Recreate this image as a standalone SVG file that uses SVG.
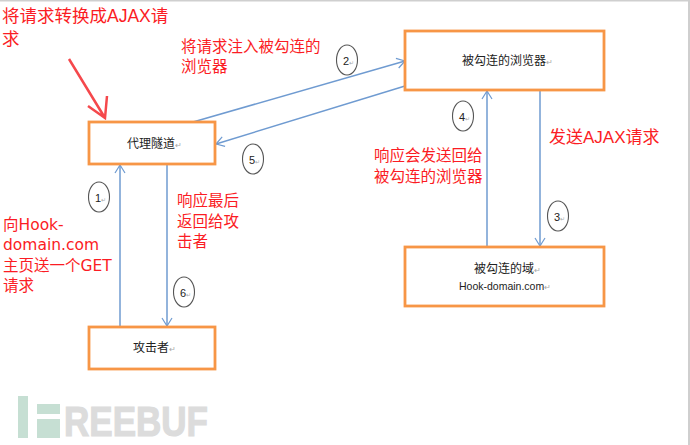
<svg xmlns="http://www.w3.org/2000/svg" width="690" height="445" viewBox="0 0 690 445">
<style>
text{font-family:"Liberation Sans","Noto Sans CJK SC",sans-serif}
.box{fill:#fff;stroke:#f79646;stroke-width:2.8}
.n{font-size:12px;fill:#222}
.r{fill:#a8a8a8;font-size:8px}
.c{fill:#fff;stroke:#555;stroke-width:1.1}
.d{font-size:11px;fill:#222}
.red{fill:#fb1c24;font-size:15.5px;font-family:"DejaVu Sans","Noto Sans CJK SC",sans-serif}
.big{fill:#fb1c24;font-size:17.5px}
.l{stroke:#6f9bd1;stroke-width:1.5;fill:none}
</style>
<defs>
<marker id="a" viewBox="0 0 12 12" refX="11" refY="6" markerWidth="12" markerHeight="12" markerUnits="userSpaceOnUse" orient="auto">
<path d="M3 1L11 6L3 11" fill="none" stroke="#6f9bd1" stroke-width="1.2"/>
</marker>
</defs>
<rect width="690" height="445" fill="#fff"/>
<rect x="0" y="0" width="690" height="1.5" fill="#cfcfcf"/>
<rect x="688" y="0" width="2" height="445" fill="#cfcfcf"/>
<g id="connectors">
<path class="l" d="M120 326V165" marker-end="url(#a)"/>
<path class="l" d="M167 165V326" marker-end="url(#a)"/>
<path class="l" d="M193 122L405 61" marker-end="url(#a)"/>
<path class="l" d="M405 86L216 144" marker-end="url(#a)"/>
<path class="l" d="M487 247V91" marker-end="url(#a)"/>
<path class="l" d="M540 90V246" marker-end="url(#a)"/>
</g>
<g id="proxy"><rect class="box" x="89" y="122" width="126" height="42"/><text class="n" x="127" y="148">代理隧道<tspan class="r">↵</tspan></text></g>
<g id="browser"><rect class="box" x="405" y="31" width="199" height="59"/><text class="n" x="462" y="65">被勾连的浏览器<tspan class="r">↵</tspan></text></g>
<g id="attacker"><rect class="box" x="89" y="327" width="126" height="42"/><text class="n" x="133" y="352">攻击者<tspan class="r">↵</tspan></text></g>
<g id="domain"><rect class="box" x="405" y="247" width="199" height="59"/><text class="n" x="474" y="273">被勾连的域<tspan class="r">↵</tspan></text><text class="n" x="459" y="290" style="font-size:10.5px">Hook-domain.com<tspan class="r">↵</tspan></text></g>
<g id="step1"><ellipse class="c" cx="99" cy="197" rx="10.5" ry="15"/><text class="d" x="95" y="202">1<tspan class="r" style="font-size:6px">↵</tspan></text></g>
<g id="step2"><ellipse class="c" cx="347" cy="60" rx="10.5" ry="15"/><text class="d" x="343" y="65">2<tspan class="r" style="font-size:6px">↵</tspan></text></g>
<g id="step3"><ellipse class="c" cx="558" cy="216" rx="10.5" ry="15"/><text class="d" x="554" y="221">3<tspan class="r" style="font-size:6px">↵</tspan></text></g>
<g id="step4"><ellipse class="c" cx="463" cy="116" rx="10.5" ry="15"/><text class="d" x="459" y="121">4<tspan class="r" style="font-size:6px">↵</tspan></text></g>
<g id="step5"><ellipse class="c" cx="253" cy="159" rx="10.5" ry="15"/><text class="d" x="249" y="164">5<tspan class="r" style="font-size:6px">↵</tspan></text></g>
<g id="step6"><ellipse class="c" cx="184" cy="292" rx="10.5" ry="15"/><text class="d" x="180" y="297">6<tspan class="r" style="font-size:6px">↵</tspan></text></g>
<g id="labels">
<text class="big" x="2" y="22">将请求转换成AJAX请</text>
<text class="big" x="2" y="45">求</text>
<text class="red" x="181" y="52">将请求注入被勾连的</text>
<text class="red" x="181" y="72">浏览器</text>
<text class="red" x="177" y="206">响应最后</text>
<text class="red" x="177" y="227">返回给攻</text>
<text class="red" x="177" y="247">击者</text>
<text class="red" x="3" y="230">向Hook-</text>
<text class="red" x="3" y="250">domain.com</text>
<text class="red" x="3" y="271">主页送一个GET</text>
<text class="red" x="3" y="291">请求</text>
<text class="big" x="549" y="143" style="font-size:17px">发送AJAX请求</text>
<text class="red" x="374" y="161">响应会发送回给</text>
<text class="red" x="374" y="182">被勾连的浏览器</text>
</g>
<path d="M69 59L105 118M88 106L105 118L107 96" fill="none" stroke="#f5484c" stroke-width="2.5"/>
<g id="watermark">
<rect x="18" y="396" width="10" height="42" fill="#c6dfd3"/>
<rect x="37" y="404" width="23" height="10" fill="#c6dfd3"/>
<rect x="37" y="419" width="23" height="19" fill="#c6dfd3"/>
<text x="64" y="436" font-size="42" font-weight="bold" fill="#dcdcdc" stroke="#dcdcdc" stroke-width="1.2" textLength="144" lengthAdjust="spacingAndGlyphs">REEBUF</text>
</g>
</svg>
